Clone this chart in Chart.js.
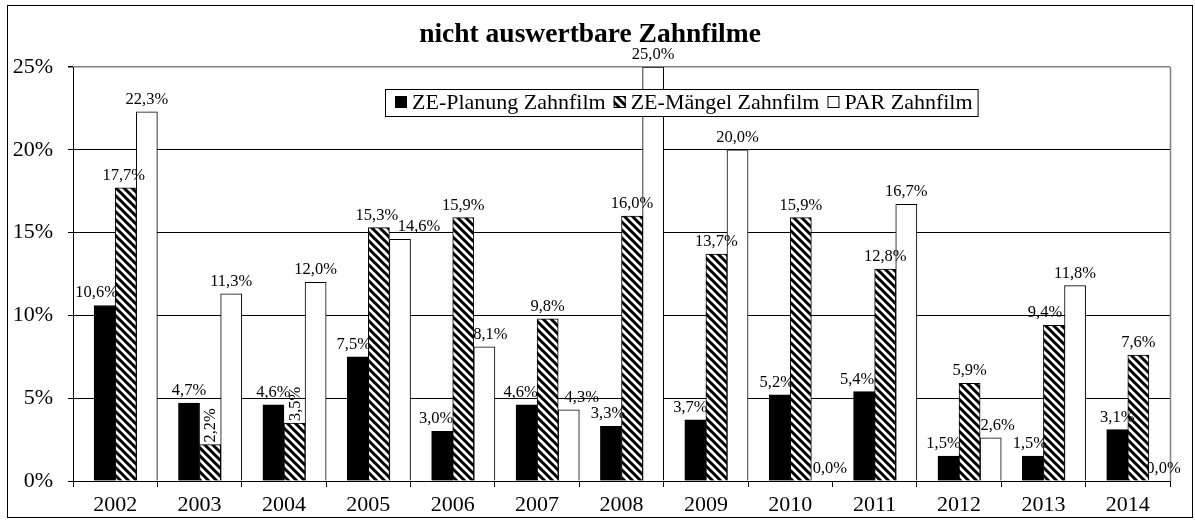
<!DOCTYPE html>
<html><head><meta charset="utf-8">
<script src="https://cdn.jsdelivr.net/npm/chart.js@4.4.1/dist/chart.umd.min.js"></script>
<style>html,body{margin:0;padding:0;background:#fff;overflow:hidden}</style>
</head><body>
<canvas id="c" width="1195" height="522"></canvas>
<script>
const chartTitle = 'nicht auswertbare Zahnfilme';
const years = ['2002','2003','2004','2005','2006','2007','2008','2009','2010','2011','2012','2013','2014'];
const seriesNames = ['ZE-Planung Zahnfilm', 'ZE-Mängel Zahnfilm', 'PAR Zahnfilm'];
const planung = [10.6, 4.7, 4.6, 7.5, 3.0, 4.6, 3.3, 3.7, 5.2, 5.4, 1.5, 1.5, 3.1];
const maengel = [17.7, 2.2, 3.5, 15.3, 15.9, 9.8, 16.0, 13.7, 15.9, 12.8, 5.9, 9.4, 7.6];
const par     = [22.3, 11.3, 12.0, 14.6, 8.1, 4.3, 25.0, 20.0, 0.0, 16.7, 2.6, 11.8, 0.0];
const yTicks = [0, 5, 10, 15, 20, 25];

// label placement tweaks (style only): horizontal nudges in px, keyed "series-index"
const labelNudge = {
  '0-0': -8, '0-3': -4, '0-4': -6, '0-5': -6, '0-6': -3, '0-7': -5, '0-8': -3, '0-9': -7, '0-10': -5, '0-11': -3,
  '1-0': -2, '1-3': -2, '1-11': -9, '1-13': 3,
  '2-3': 19, '2-4': 6, '2-5': 13, '2-8': 8, '2-10': 7, '2-12': 4
};
const rotatedLabels = ['1-1', '1-2'];

const SERIF = '"Liberation Serif", "Times New Roman", serif';

function makeHatch() {
  const c = document.createElement('canvas');
  c.width = 8; c.height = 8;
  const g = c.getContext('2d');
  g.fillStyle = '#fff'; g.fillRect(0, 0, 8, 8);
  g.strokeStyle = '#000'; g.lineWidth = 3;
  g.beginPath();
  g.moveTo(-2, -2); g.lineTo(10, 10);
  g.moveTo(-2, 6); g.lineTo(2, 10);
  g.moveTo(6, -2); g.lineTo(10, 2);
  g.stroke();
  return g.createPattern(c, 'repeat');
}
const ctx = document.getElementById('c').getContext('2d');
const hatch = makeHatch();
const fills = ['#000000', hatch, '#ffffff'];

const fmt = v => v.toFixed(1).replace('.', ',') + '%';

const decoPlugin = {
  id: 'deco',
  beforeDraw(chart) {
    const g = chart.ctx;
    g.save();
    g.fillStyle = '#fff';
    g.fillRect(0, 0, chart.width, chart.height);
    g.strokeStyle = '#000'; g.lineWidth = 1;
    g.strokeRect(7.5, 5.5, 1185, 512);
    g.restore();
  },
  beforeDatasetsDraw(chart) {
    const a = chart.chartArea, g = chart.ctx;
    g.save();
    g.strokeStyle = '#808080'; g.lineWidth = 1.5;
    g.beginPath();
    g.moveTo(Math.round(a.right) + 0.5, a.top);
    g.lineTo(Math.round(a.right) + 0.5, a.bottom);
    g.stroke();
    g.restore();
  },
  afterDatasetsDraw(chart) {
    const g = chart.ctx;
    g.save();
    g.font = '16.5px ' + SERIF;
    g.fillStyle = '#000';
    [planung, maengel, par].forEach((arr, s) => {
      const meta = chart.getDatasetMeta(s + 1);
      meta.data.forEach((bar, i) => {
        const key = s + '-' + i;
        const txt = fmt(arr[i]);
        if (rotatedLabels.includes(key)) {
          g.save();
          g.translate(bar.x + 1, bar.y - 2);
          g.rotate(-Math.PI / 2);
          g.textAlign = 'left'; g.textBaseline = 'middle';
          g.fillText(txt, 0, 0);
          g.restore();
        } else {
          g.textAlign = 'center'; g.textBaseline = 'alphabetic';
          g.fillText(txt, bar.x + (labelNudge[key] || 0), bar.y - 8);
        }
      });
    });
    g.restore();
  },
  afterDraw(chart) {
    const g = chart.ctx;
    g.save();
    // title
    g.fillStyle = '#000';
    g.font = 'bold 27.5px ' + SERIF;
    g.textAlign = 'center'; g.textBaseline = 'alphabetic';
    g.fillText(chartTitle, 590, 42);
    // legend
    g.font = '22px ' + SERIF;
    g.textAlign = 'left';
    const boxX = 385, boxY = 89, boxH = 27, cy = 102;
    let x = boxX + 10;
    const items = [];
    seriesNames.forEach((n, i) => {
      const w = g.measureText(n).width;
      items.push({ n, i, x });
      x += 17 + w + 8;
    });
    const boxW = x - 8 + 5 - boxX;
    g.fillStyle = '#fff';
    g.fillRect(boxX + 0.5, boxY + 0.5, boxW, boxH);
    g.strokeStyle = '#000'; g.lineWidth = 1;
    g.strokeRect(boxX + 0.5, boxY + 0.5, boxW, boxH);
    items.forEach(it => {
      g.fillStyle = fills[it.i];
      g.fillRect(it.x, cy - 6, 12, 12);
      g.strokeStyle = '#000';
      g.strokeRect(it.x + 0.5, cy - 5.5, 11, 11);
      g.fillStyle = '#000';
      g.fillText(it.n, it.x + 17, 109);
    });
    g.restore();
  }
};

new Chart(ctx, {
  type: 'bar',
  data: {
    labels: years,
    datasets: [
      { label: '', data: years.map(() => null) },
      { label: seriesNames[0], data: planung, backgroundColor: fills[0], borderColor: '#000', borderWidth: 1 },
      { label: seriesNames[1], data: maengel, backgroundColor: fills[1], borderColor: '#000', borderWidth: 1 },
      { label: seriesNames[2], data: par, backgroundColor: fills[2], borderColor: '#000', borderWidth: 1 }
    ]
  },
  options: {
    responsive: false,
    devicePixelRatio: 1,
    animation: false,
    datasets: { bar: { categoryPercentage: 1, barPercentage: 1 } },
    layout: { padding: { top: 67, right: 25, left: 0, bottom: 0 } },
    plugins: { legend: { display: false }, title: { display: false }, tooltip: { enabled: false } },
    scales: {
      x: {
        offset: true,
        grid: { offset: true, drawOnChartArea: false, drawTicks: true, tickLength: 6, color: '#000' },
        border: { color: '#000', width: 1 },
        ticks: { color: '#000', font: { family: SERIF, size: 22 }, padding: 5, maxRotation: 0 },
        afterFit(s) { s.height = 41; }
      },
      y: {
        min: 0, max: 25,
        afterBuildTicks(s) { s.ticks = yTicks.map(v => ({ value: v })); },
        grid: {
          color: c => (c.tick && c.tick.value === 25) ? '#808080' : '#000',
          lineWidth: c => (c.tick && c.tick.value === 25) ? 1.5 : 1,
          tickLength: 5, tickColor: '#000'
        },
        border: { color: '#000', width: 1 },
        ticks: { color: '#000', font: { family: SERIF, size: 22 }, padding: 15, callback: v => v + '%' },
        afterFit(s) { s.width = 73; }
      }
    }
  },
  plugins: [decoPlugin]
});
</script>
</body></html>
